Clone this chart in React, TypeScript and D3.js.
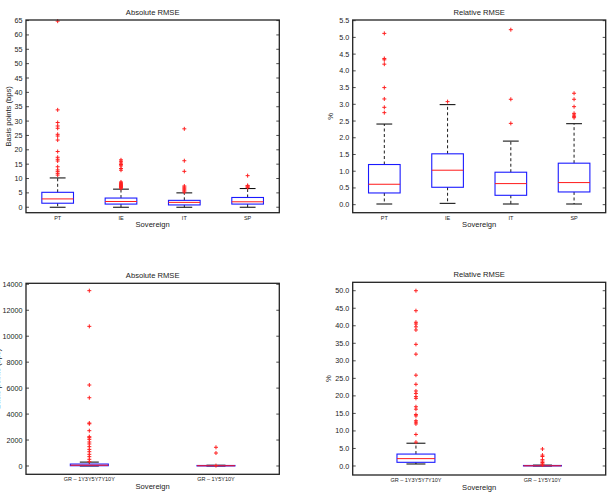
import React, { useRef, useEffect } from 'react';
import * as d3 from 'd3';

// Sovereign categories
const euroCats = ['PT', 'IE', 'IT', 'SP'];
const greekCats = ['GR \u2013 1Y3Y5Y7Y10Y', 'GR \u2013 1Y5Y10Y'];

// Box stats: [lower whisker, q1, median, q3, upper whisker]
const euroAbsStats = [
  [0, 1.4, 2.9, 5.2, 10.2],
  [0, 1.1, 2.0, 3.2, 6.3],
  [0, 0.8, 1.7, 2.4, 5.0],
  [0, 1.1, 1.9, 3.4, 6.5],
];
const euroAbsOutliers = [
  [11.2, 11.8, 12.4, 13.0, 14.1, 16.1, 16.7, 17.4, 19.4, 23.4, 24.8, 25.4, 27.5, 28.3, 29.5, 33.9, 64.8],
  [6.6, 6.8, 7.0, 7.2, 7.4, 7.6, 7.8, 8.0, 8.2, 8.5, 8.8, 12.9, 13.5, 14.4, 14.9, 15.4, 16.0, 16.5],
  [5.3, 5.7, 6.1, 6.6, 7.0, 7.4, 12.5, 16.2, 27.3],
  [6.8, 7.1, 7.4, 7.6, 11.0],
];

const euroRelStats = [
  [0.02, 0.35, 0.61, 1.2, 2.41],
  [0.04, 0.52, 1.03, 1.52, 2.99],
  [0.02, 0.28, 0.63, 0.97, 1.9],
  [0.02, 0.38, 0.66, 1.24, 2.42],
];
const euroRelOutliers = [
  [2.75, 2.91, 3.16, 3.5, 4.2, 4.33, 4.37, 5.12],
  [3.08],
  [2.43, 3.15, 5.23],
  [2.6, 2.64, 2.68, 2.73, 2.93, 3.15, 3.33],
];

const greekAbsStats = [
  [0, 20, 60, 150, 300],
  [0, 5, 20, 40, 60],
];
const greekAbsOutliers = [
  [335, 515, 720, 900, 1100, 1280, 1490, 1695, 1850, 2050, 2180, 2260, 2720, 3250, 3310, 5260, 6240, 10760, 13510],
  [30, 1000, 1440],
];

const greekRelStats = [
  [0.57, 1.05, 2.1, 3.4, 6.5],
  [0, 0.02, 0.06, 0.15, 0.25],
];
const greekRelOutliers = [
  [6.8, 9.0, 12.0, 12.5, 12.9, 14.3, 14.7, 16.2, 16.9, 19.3, 19.8, 20.7, 21.4, 23.3, 25.9, 31.9, 34.7, 38.8, 39.7, 40.5, 41.0, 44.3, 50.0],
  [0.3, 0.6, 1.0, 1.4, 1.8, 2.7, 3.1, 4.85],
];

const euroAbsTicks = d3.range(0, 66, 5);
const euroRelTicks = d3.range(0, 5.51, 0.5);
const greekAbsTicks = d3.range(0, 14001, 2000);
const greekRelTicks = d3.range(0, 50.1, 5);

const FONT = 'Liberation Sans, Arial, sans-serif';

interface PanelSpec {
  title: string;
  ylabel: string;
  ylabelX: number;
  cats: string[];
  stats: number[][];
  outliers: number[][];
  ticks: number[];
  fmt: (v: number) => string;
  domain: [number, number];
  x0: number;
  x1: number;
  y0: number;
  y1: number;
  boxWidth: number;
}

const panels: PanelSpec[] = [
  {
    title: 'Absolute RMSE', ylabel: 'Basis points (bps)', ylabelX: 10.5,
    cats: euroCats, stats: euroAbsStats, outliers: euroAbsOutliers,
    ticks: euroAbsTicks, fmt: d3.format('d'), domain: [-1.9, 65.2],
    x0: 26, x1: 279.3, y0: 20, y1: 212.7, boxWidth: 0.5,
  },
  {
    title: 'Relative RMSE', ylabel: '%', ylabelX: 333,
    cats: euroCats, stats: euroRelStats, outliers: euroRelOutliers,
    ticks: euroRelTicks, fmt: d3.format('.1f'), domain: [-0.24, 5.52],
    x0: 352.7, x1: 605.7, y0: 20, y1: 212.7, boxWidth: 0.5,
  },
  {
    title: 'Absolute RMSE', ylabel: 'Basis points (bps)', ylabelX: -0.5,
    cats: greekCats, stats: greekAbsStats, outliers: greekAbsOutliers,
    ticks: greekAbsTicks, fmt: d3.format('d'), domain: [-640, 14077],
    x0: 26, x1: 279.3, y0: 283.3, y1: 474.3, boxWidth: 0.3,
  },
  {
    title: 'Relative RMSE', ylabel: '%', ylabelX: 330.5,
    cats: greekCats, stats: greekRelStats, outliers: greekRelOutliers,
    ticks: greekRelTicks, fmt: d3.format('.1f'), domain: [-2.57, 52.4],
    x0: 352.7, x1: 605.7, y0: 282.3, y1: 475, boxWidth: 0.3,
  },
];

function drawPanel(root: d3.Selection<SVGSVGElement, unknown, null, undefined>, p: PanelSpec) {
  const g = root.append('g');
  const x = d3.scaleLinear().domain([0.5, p.cats.length + 0.5]).range([p.x0, p.x1]);
  const y = d3.scaleLinear().domain(p.domain).range([p.y1, p.y0]);
  const halfBox = (x(1 + p.boxWidth / 2) - x(1));
  const halfCap = halfBox / 2;

  // y ticks (inside, both sides) and labels
  p.ticks.forEach((t) => {
    const ty = y(t);
    g.append('line').attr('x1', p.x0).attr('x2', p.x0 + 3).attr('y1', ty).attr('y2', ty)
      .attr('stroke', '#222').attr('stroke-width', 0.8);
    g.append('line').attr('x1', p.x1 - 3).attr('x2', p.x1).attr('y1', ty).attr('y2', ty)
      .attr('stroke', '#222').attr('stroke-width', 0.8);
    g.append('text').attr('x', p.x0 - 3.5).attr('y', ty).attr('dy', '0.35em')
      .attr('text-anchor', 'end').attr('font-size', 7.2).attr('fill', '#222')
      .attr('font-family', FONT).text(p.fmt(t));
  });

  // boxes
  p.stats.forEach((s, i) => {
    const cx = x(i + 1);
    const [lo, q1, med, q3, hi] = s;
    // whiskers
    g.append('line').attr('x1', cx).attr('x2', cx).attr('y1', y(q3)).attr('y2', y(hi))
      .attr('stroke', '#000').attr('stroke-width', 0.9).attr('stroke-dasharray', '3,2.5');
    g.append('line').attr('x1', cx).attr('x2', cx).attr('y1', y(q1)).attr('y2', y(lo))
      .attr('stroke', '#000').attr('stroke-width', 0.9).attr('stroke-dasharray', '3,2.5');
    [lo, hi].forEach((v) => {
      g.append('line').attr('x1', cx - halfCap).attr('x2', cx + halfCap).attr('y1', y(v)).attr('y2', y(v))
        .attr('stroke', '#000').attr('stroke-width', 1);
    });
    g.append('rect').attr('x', cx - halfBox).attr('width', halfBox * 2)
      .attr('y', y(q3)).attr('height', y(q1) - y(q3))
      .attr('fill', 'none').attr('stroke', '#1a1aff').attr('stroke-width', 1.1);
    g.append('line').attr('x1', cx - halfBox).attr('x2', cx + halfBox).attr('y1', y(med)).attr('y2', y(med))
      .attr('stroke', '#ff1a1a').attr('stroke-width', 1);

    // outliers as '+'
    p.outliers[i].forEach((v) => {
      const oy = y(v);
      g.append('path').attr('d', `M${cx - 2},${oy}H${cx + 2}M${cx},${oy - 2}V${oy + 2}`)
        .attr('stroke', '#ff2020').attr('stroke-width', 1).attr('fill', 'none');
    });
  });

  // frame
  g.append('rect').attr('x', p.x0).attr('y', p.y0).attr('width', p.x1 - p.x0).attr('height', p.y1 - p.y0)
    .attr('fill', 'none').attr('stroke', '#222').attr('stroke-width', 1.3);

  // category labels
  p.cats.forEach((c, i) => {
    g.append('text').attr('x', x(i + 1)).attr('y', p.y1 + 6.8)
      .attr('text-anchor', 'middle').attr('font-size', 5.5).attr('fill', '#222')
      .attr('font-family', FONT).text(c);
  });

  const midX = (p.x0 + p.x1) / 2;
  g.append('text').attr('x', midX).attr('y', p.y1 + 14.5).attr('text-anchor', 'middle')
    .attr('font-size', 7.6).attr('fill', '#222').attr('font-family', FONT).text('Sovereign');
  g.append('text').attr('x', midX).attr('y', p.y0 - 5).attr('text-anchor', 'middle')
    .attr('font-size', 7.6).attr('fill', '#222').attr('font-family', FONT).text(p.title);

  const midY = (p.y0 + p.y1) / 2;
  g.append('text').attr('transform', `translate(${p.ylabelX},${midY}) rotate(-90)`)
    .attr('text-anchor', 'middle').attr('font-size', 7.6).attr('fill', '#222')
    .attr('font-family', FONT).text(p.ylabel);
}

const App: React.FC = () => {
  const svgRef = useRef<SVGSVGElement>(null);

  useEffect(() => {
    if (!svgRef.current) return;
    const svg = d3.select(svgRef.current);
    svg.selectAll('*').remove();
    svg.append('rect').attr('width', 614).attr('height', 493).attr('fill', '#fff');
    panels.forEach((p) => drawPanel(svg, p));
  }, []);

  return (
    <div style={{ position: 'absolute', left: 0, top: 0 }}>
      <svg ref={svgRef} width={614} height={493} style={{ display: 'block' }} />
    </div>
  );
};

export default App;
